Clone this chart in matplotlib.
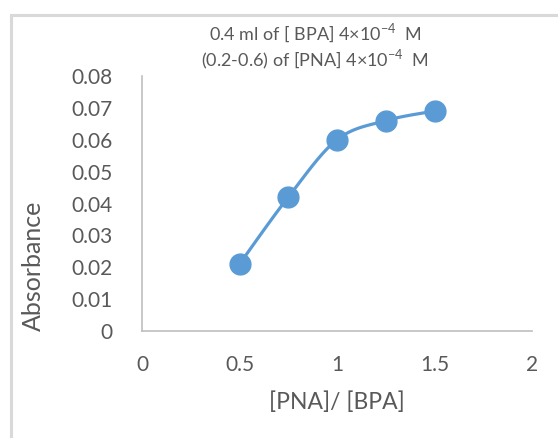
import numpy as np
import matplotlib.pyplot as plt
from matplotlib.patches import Rectangle

ratio = [0.5, 0.75, 1.0, 1.25, 1.5]
absorbance = [0.021, 0.042, 0.060, 0.066, 0.069]
title_lines = ["0.4 ml of [ BPA] 4×10$^{-4}$  M", "(0.2-0.6) of [PNA] 4×10$^{-4}$  M"]

plt.rcParams['font.family'] = ['Lato', 'DejaVu Sans']
plt.rcParams['mathtext.fontset'] = 'custom'
plt.rcParams['mathtext.rm'] = 'Lato'
txt = '#595959'
blue = '#5b9bd5'


def smooth(x, y, n=30, t=0.5):
    # cardinal spline through the points, like a spreadsheet "smoothed line"
    x = np.asarray(x, float); y = np.asarray(y, float)
    px = np.r_[x[0], x, x[-1]]; py = np.r_[y[0], y, y[-1]]
    xs, ys = [], []
    for i in range(1, len(px) - 2):
        p0 = np.array([px[i], py[i]]); p3 = np.array([px[i + 1], py[i + 1]])
        m1 = (np.array([px[i + 1], py[i + 1]]) - np.array([px[i - 1], py[i - 1]])) * t / 3
        m2 = (np.array([px[i + 2], py[i + 2]]) - np.array([px[i], py[i]])) * t / 3
        p1 = p0 + m1; p2 = p3 - m2
        s = np.linspace(0, 1, n)[:, None]
        b = (1 - s) ** 3 * p0 + 3 * (1 - s) ** 2 * s * p1 + 3 * (1 - s) * s ** 2 * p2 + s ** 3 * p3
        xs.extend(b[:, 0]); ys.extend(b[:, 1])
    return xs, ys


fig = plt.figure(figsize=(5.58, 4.38), dpi=100)
fig.patches.append(Rectangle((10.5 / 558, -0.1), 1.2, 1 - 14.5 / 438 + 0.1,
                             transform=fig.transFigure, fill=False,
                             edgecolor='#d9d9d9', lw=2.2))
ax = fig.add_axes([142 / 558, 1 - 331 / 438, 390 / 558, 255 / 438])

sx, sy = smooth(ratio, absorbance)
ax.plot(sx, sy, color=blue, lw=2.3, zorder=2)
ax.plot(ratio, absorbance, 'o', color=blue, ms=15, zorder=3)

ax.set_xlim(0, 2)
ax.set_ylim(0, 0.08)
ax.set_xticks([0, 0.5, 1, 1.5, 2])
ax.set_xticklabels(['0', '0.5', '1', '1.5', '2'])
ax.set_yticks(np.arange(0, 0.081, 0.01))
ax.set_yticklabels(['0'] + ['%.2f' % v for v in np.arange(0.01, 0.081, 0.01)])
ax.tick_params(length=0, labelsize=15, colors=txt)
ax.tick_params(axis='y', pad=21)
ax.tick_params(axis='x', pad=17)
for side in ['top', 'right']:
    ax.spines[side].set_visible(False)
for side in ['left', 'bottom']:
    ax.spines[side].set_color('#bfbfbf')
    ax.spines[side].set_linewidth(1.2)

ax.set_xlabel('[PNA]/ [BPA]', fontsize=16.5, color=txt)
ax.set_ylabel('Absorbance', fontsize=18, color=txt)
ax.xaxis.set_label_coords(0.5, -0.235)
ax.yaxis.set_label_coords(-0.25, 0.255)
fig.text(315 / 558, 1 - 33 / 438, title_lines[0], ha='center', va='center', fontsize=13, color=txt)
fig.text(315 / 558, 1 - 60 / 438, title_lines[1], ha='center', va='center', fontsize=13, color=txt)

fig.savefig('out.png', dpi=100)
